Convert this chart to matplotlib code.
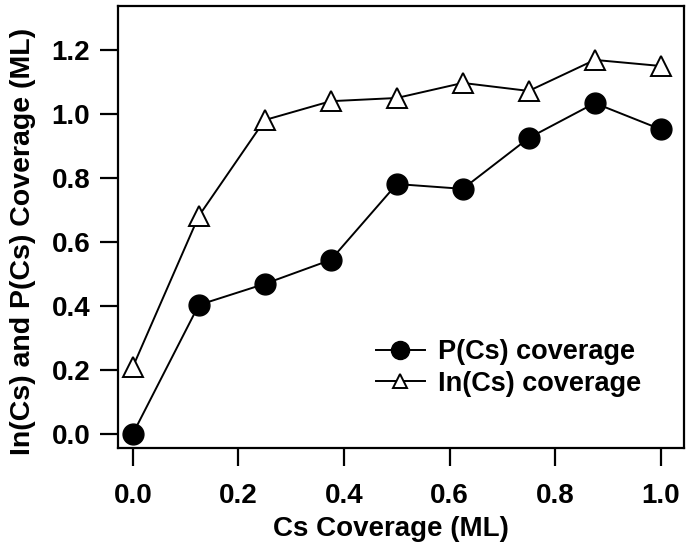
import matplotlib
matplotlib.use("Agg")
import matplotlib.pyplot as plt

cs_coverage = [0.0, 0.125, 0.25, 0.375, 0.5, 0.625, 0.75, 0.875, 1.0]
p_coverage = [0.0, 0.403, 0.469, 0.544, 0.781, 0.766, 0.925, 1.034, 0.952]
in_coverage = [0.209, 0.681, 0.981, 1.040, 1.050, 1.097, 1.072, 1.169, 1.150]
x_ticks = [0.0, 0.2, 0.4, 0.6, 0.8, 1.0]
y_ticks = [0.0, 0.2, 0.4, 0.6, 0.8, 1.0, 1.2]

plt.rcParams['font.family'] = ['Liberation Sans', 'DejaVu Sans']
plt.rcParams['font.weight'] = 'bold'

fig = plt.figure(figsize=(6.86, 5.54), dpi=100)
ax = fig.add_axes([118/686, 106/554, 566/686, 442/554])

ax.plot(cs_coverage, p_coverage, color='black', lw=1.4, marker='o', ms=15,
        mfc='black', mec='black', label='P(Cs) coverage')
ax.plot(cs_coverage, in_coverage, color='black', lw=1.4, marker='^', ms=14,
        mfc='white', mec='black', mew=1.4, label='In(Cs) coverage')

ax.set_xlim(-0.028, 1.044)
ax.set_ylim(-0.044, 1.3375)
ax.set_xticks(x_ticks)
ax.set_yticks(y_ticks)
ax.set_xticklabels([f"{v:.1f}" for v in x_ticks], fontsize=20, fontweight='bold')
ax.set_yticklabels([f"{v:.1f}" for v in y_ticks], fontsize=20, fontweight='bold')
ax.tick_params(direction='out', length=13, width=1.6)
ax.tick_params(axis='x', pad=12)
ax.tick_params(axis='y', pad=7)
for s in ax.spines.values():
    s.set_linewidth(1.6)

ax.set_xlabel('Cs Coverage (ML)', fontsize=20, fontweight='bold')
ax.set_ylabel('In(Cs) and P(Cs) Coverage (ML)', fontsize=20.5, fontweight='bold')
ax.xaxis.set_label_coords(0.482, -0.154)
ax.yaxis.set_label_coords(-0.145, 0.468)

leg = ax.legend(loc='center left', bbox_to_anchor=(0.456, 0.181), frameon=False,
                handlelength=1.8, handletextpad=0.5, labelspacing=0.2,
                borderpad=0, borderaxespad=0,
                prop={'weight': 'bold', 'size': 19.5})
hs = leg.legend_handles
hs[0].set_markersize(13)
hs[1].set_markersize(10)

fig.savefig('out.png', dpi=100)
